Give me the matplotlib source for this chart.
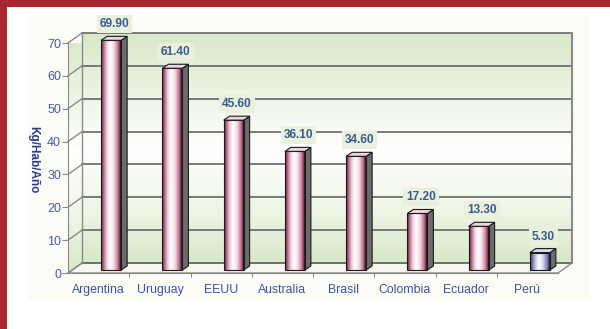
import numpy as np
import matplotlib
matplotlib.use("Agg")
import matplotlib.pyplot as plt
from matplotlib.patches import Rectangle, Polygon
from matplotlib.colors import LinearSegmentedColormap

plt.rcParams['font.family'] = ['Liberation Sans', 'DejaVu Sans']

paises = ['Argentina', 'Uruguay', 'EEUU', 'Australia', 'Brasil', 'Colombia', 'Ecuador', 'Perú']
consumo = [69.90, 61.40, 45.60, 36.10, 34.60, 17.20, 13.30, 5.30]
yticks = [0, 10, 20, 30, 40, 50, 60, 70]
ylabel = 'Kg/Hab/Año'

W, H, DPI = 610, 329, 100
fig = plt.figure(figsize=(W / DPI, H / DPI), dpi=DPI)
fig.patch.set_facecolor('white')

# frame: faint panel + red border
fig.patches.append(Rectangle((28 / W, 1 - 300 / H), 562 / W, 285 / H, transform=fig.transFigure,
                             facecolor='#fbfcf6', edgecolor='none', zorder=-2))
fig.patches.append(Rectangle((0, 0), 7 / W, 1, transform=fig.transFigure,
                             facecolor='#a8262e', edgecolor='none', zorder=1))
fig.patches.append(Rectangle((0, 1 - 7 / H), 1, 7 / H, transform=fig.transFigure,
                             facecolor='#a8262e', edgecolor='none', zorder=1))

ax_l, ax_r, ax_b, ax_t = 68, 558, 273, 43
ax = fig.add_axes([ax_l / W, 1 - ax_b / H, (ax_r - ax_l) / W, (ax_b - ax_t) / H])
ax.set_facecolor('none')
n = len(paises)
xmin, xmax, ymin, ymax = -0.5, n - 0.5, 0, 70
ax.set_xlim(xmin, xmax)
ax.set_ylim(ymin, ymax)
ax.set_autoscale_on(False)

pxx = (ax_r - ax_l) / (xmax - xmin)   # px per x unit
pxy = (ax_b - ax_t) / (ymax - ymin)   # px per y unit
dxw, dyw = 14 / pxx, 10 / pxy          # wall depth

wall_cmap = LinearSegmentedColormap.from_list('wall', ['#d8e8c8', '#ecf4e2', '#ffffff', '#f0f6e8', '#d8e8c8'])
grad = np.linspace(0, 1, 256).reshape(-1, 1)

# back wall
ax.imshow(grad, cmap=wall_cmap, aspect='auto', origin='upper',
          extent=[xmin + dxw, xmax + dxw, dyw, ymax + dyw], clip_on=False, zorder=0)
# side wall
side = Polygon([(xmin, 0), (xmin + dxw, dyw), (xmin + dxw, ymax + dyw), (xmin, ymax)],
               closed=True, facecolor='none', edgecolor='none', clip_on=False)
ax.add_patch(side)
im = ax.imshow(grad, cmap=wall_cmap, aspect='auto', origin='upper',
               extent=[xmin, xmin + dxw, 0, ymax + dyw], zorder=0)
im.set_clip_box(None)
im.set_clip_path(side)
# floor
ax.add_patch(Polygon([(xmin, 0), (xmax, 0), (xmax + dxw, dyw), (xmin + dxw, dyw)], closed=True,
                     facecolor='#f4f8ee', edgecolor='#8a8a8a', lw=1, clip_on=False, zorder=1))

for v in yticks:
    ax.plot([xmin + dxw, xmax + dxw], [v + dyw, v + dyw], color='#666666', lw=1.2, clip_on=False, zorder=1)
    ax.plot([xmin, xmin + dxw], [v, v + dyw], color='#8a8a8a', lw=1, clip_on=False, zorder=1)
ax.plot([xmin + dxw, xmin + dxw], [dyw, ymax + dyw], color='#8a8a8a', lw=1, clip_on=False, zorder=1)
ax.plot([xmax + dxw, xmax + dxw], [dyw, ymax + dyw], color='#8a8a8a', lw=1.5, clip_on=False, zorder=1)

# bars
bw = 20 / pxx
bx = 12.5 / pxx
bb = 3 / pxy
ddx, ddy = 6 / pxx, 4 / pxy
pink = LinearSegmentedColormap.from_list('pink', [(0, '#3c0a22'), (0.1, '#a85478'), (0.28, '#eecbd9'),
                                                  (0.45, '#ffffff'), (0.65, '#f5dce6'), (0.86, '#bf7090'),
                                                  (1, '#3c0a22')])
blue = LinearSegmentedColormap.from_list('blue', [(0, '#1e1e4e'), (0.1, '#6a6aa6'), (0.28, '#c8c8e8'),
                                                  (0.45, '#ffffff'), (0.65, '#d6d6ee'), (0.86, '#7c7cb6'),
                                                  (1, '#24245a')])
hgrad = np.linspace(0, 1, 256).reshape(1, -1)

xs = np.arange(n) + bx
bars = ax.bar(xs, consumo, width=bw, bottom=bb, facecolor='none', edgecolor='#1a1a1a', lw=0.8, zorder=4)
for i, (rect, v) in enumerate(zip(bars, consumo)):
    rect.set_clip_on(False)
    cm = blue if paises[i] == 'Perú' else pink
    x0, x1 = rect.get_x(), rect.get_x() + rect.get_width()
    top = rect.get_y() + rect.get_height()
    bi = ax.imshow(hgrad, cmap=cm, aspect='auto', extent=[x0, x1, rect.get_y(), top], zorder=3)
    bi.set_clip_path(rect)
    ax.add_patch(Polygon([(x1, bb), (x1 + ddx, bb + ddy), (x1 + ddx, top + ddy), (x1, top)], closed=True,
                         facecolor='#6c6c6c', edgecolor='#1a1a1a', lw=0.8, clip_on=False, zorder=3))
    topc = '#d8d8ec' if paises[i] == 'Perú' else '#ecd6df'
    ax.add_patch(Polygon([(x0, top), (x1, top), (x1 + ddx, top + ddy), (x0 + ddx, top + ddy)], closed=True,
                         facecolor=topc, edgecolor='#1a1a1a', lw=0.8, clip_on=False, zorder=5))
    ax.annotate(f'{v:.2f}', xy=(i, v), xytext=(16 * 0.72, 19 * 0.72), textcoords='offset points',
                ha='center', va='center', fontsize=8.6, fontweight='bold', color='#3b5b8f', zorder=6,
                bbox=dict(boxstyle='square,pad=0.25', facecolor='#e9f1de', edgecolor='none'))

# axes styling
for s in ['top', 'right']:
    ax.spines[s].set_visible(False)
for s in ['left', 'bottom']:
    ax.spines[s].set_color('#8a8a8a')
    ax.spines[s].set_zorder(2)
ax.set_yticks(yticks)
ax.set_yticklabels([str(v) for v in yticks])
ax.tick_params(axis='y', colors='#8a8a8a', labelcolor='#4a5a9a', labelsize=9, length=4, pad=1)
ax.set_xticks(np.arange(n))
ax.set_xticklabels(paises)
ax.tick_params(axis='x', length=0, labelcolor='#3e50a0', labelsize=8.8, pad=8)
ax.set_xticks(np.arange(n - 1) + 0.5, minor=True)
ax.tick_params(axis='x', which='minor', length=3, color='#6e6e6e')
ax.grid(False)

fig.text(33 / W, 1 - 160 / H, ylabel, rotation=270, ha='center', va='center',
         fontsize=8.5, fontweight='bold', color='#2b3990')

fig.savefig('out.png', dpi=DPI)
